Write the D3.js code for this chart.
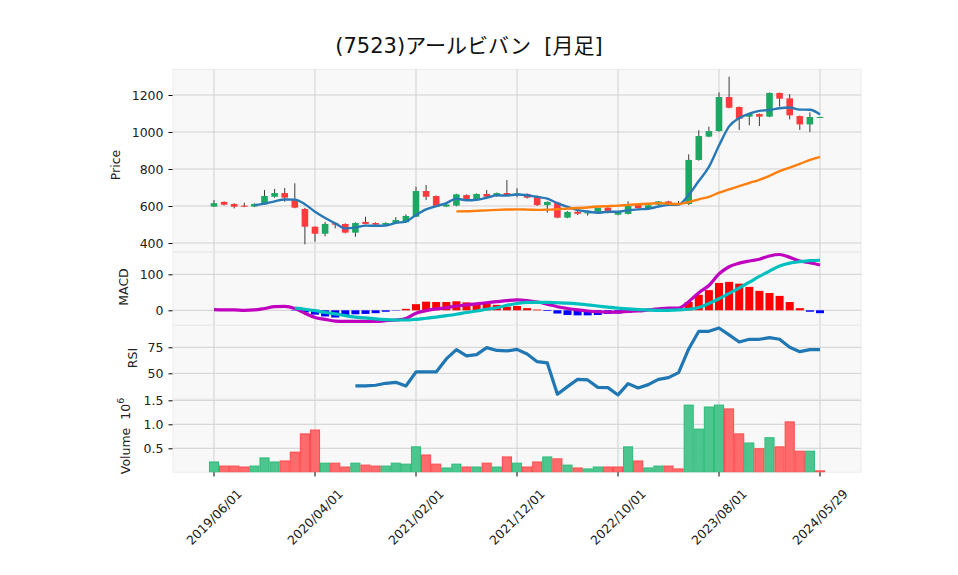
<!DOCTYPE html>
<html><head><meta charset="utf-8">
<script src="https://cdn.jsdelivr.net/npm/d3@7"></script>
<style>
html,body{margin:0;padding:0;background:#fff;}
svg text{font-family:'DejaVu Sans','Noto Sans CJK JP',sans-serif;}
</style></head>
<body><svg id="c" width="958" height="575"></svg>
<script>
const title = "(7523)アールビバン\u00a0\u00a0[月足]";
const tickIndex = [0,10,20,30,40,50,60];
const tickLabels = ["2019/06/01","2020/04/01","2021/02/01","2021/12/01","2022/10/01","2023/08/01","2024/05/29"];
const openP  = [597,622,611,602,597,609,650,670,632,584,488,450,507,503,456,514,508,499,507,512,542,681,654,597,602,659,638,665,654,670,664,665,654,605,618,537,569,560,569,591,553,557,607,589,607,625,614,611,849,975,1005,1189,1135,1083,1097,1083,1211,1182,1086,1041,1079];
const highP  = [632,625,614,618,614,686,692,697,723,590,490,514,510,506,512,542,512,512,540,555,704,713,657,612,666,663,668,686,673,740,696,668,657,625,622,572,573,575,593,594,570,625,612,606,627,628,627,879,1009,1029,1214,1299,1138,1100,1100,1214,1213,1205,1089,1106,1082];
const lowP   = [595,603,587,594,594,606,645,623,588,393,407,436,479,452,434,500,497,497,505,509,540,632,594,594,598,635,635,648,650,657,647,640,600,564,534,534,552,548,566,560,550,554,585,586,604,608,603,605,845,972,1002,1128,1011,1036,1032,1080,1137,1068,1011,1000,1078];
const closeP = [615,607,596,596,611,654,670,645,591,488,450,503,499,456,508,503,499,508,524,546,681,650,596,608,663,638,665,650,670,659,668,645,605,622,537,568,558,565,589,564,568,600,589,604,625,611,612,849,978,1005,1189,1131,1072,1097,1083,1211,1180,1090,1041,1081,1081];
const ma5 = [null,null,null,null,605,612.8,625.4,635.2,634.2,609.6,568.8,535.4,506.2,479.2,483.2,493.8,493,494.8,508.4,516,551.6,581.8,599.4,616.2,639.6,631,634,644.8,657.2,656.4,662.4,658.4,649.4,639.8,615.4,595.4,578,570,563.4,568.8,568.8,577.2,582,585,597.2,605.8,608.2,660.2,735,811,926.6,1030.4,1075,1098.8,1114.4,1118.8,1128.6,1132.2,1121,1120.6,1094.6];
const ma25 = [null,null,null,null,null,null,null,null,null,null,null,null,null,null,null,null,null,null,null,null,null,null,null,null,570.7,571.6,573.9,576.1,579,581,581.5,580.5,578.9,580.2,582.1,586.8,589,591.7,597,599.2,601.8,605.9,609.1,612.3,615.5,612.7,611.2,621.3,636.1,649.8,671.8,690.4,707.3,724.4,741.4,763.1,788,808,828,849,866];
const macd = [2,1,1,0,1,5,10,11,5,-8,-20,-25,-30,-31,-31,-31,-31,-29,-27,-23,-8,-1,4,7,12,15,18,21,24,27,29,27,23,17,10,5,1,-2,-4,-5,-5,-3,-2,1,4,6,6,24,49,69,101,121,131,137,142,151,155,147,137,132,126];
const signal = [null,null,null,null,null,null,null,null,6,3,-1,-6,-10,-15,-19,-21,-24,-26,-27,-27,-25,-22,-19,-15,-11,-6,-2,3,7,14,19,22,22,22,21,20,18,15,12,9,6,4,2,1,0,0,1,3,8,19,32,47,62,78,94,109,123,131,135,138,139];
const hist = [null,null,null,null,null,null,null,null,-1,-6,-12,-17,-20,-14,-11,-10,-8,-4,-1,4,17,24,23,23,25,22,20,18,15,10,12,6,2,-2,-9,-13,-14,-14,-13,-10,-9,-6,-3,-1,3,5,5,23,43,56,76,79,74,65,54,48,40,23,6,-4,-8];
const rsi = [null,null,null,null,null,null,null,null,null,null,null,null,null,null,38,38,38.5,40.4,41.3,37.8,51.3,51.3,51.3,63.8,72.8,66.7,68,74.7,72,71.5,73,68.6,61.2,60,29.8,37.2,44.2,43.6,36.5,36.2,29.2,40.1,35.9,39.1,44.2,45.8,50.6,73.4,90.4,90.4,93.6,86.9,80.1,82.7,82.7,84.3,82.7,75,70.8,72.8,72.8];
const volume = [0.215,0.13,0.13,0.11,0.13,0.30,0.215,0.236,0.42,0.80,0.88,0.19,0.19,0.11,0.19,0.15,0.13,0.13,0.19,0.17,0.53,0.36,0.17,0.09,0.17,0.11,0.11,0.19,0.11,0.32,0.19,0.11,0.215,0.32,0.28,0.15,0.09,0.07,0.11,0.11,0.11,0.53,0.236,0.09,0.13,0.13,0.07,1.40,0.90,1.36,1.40,1.32,0.80,0.61,0.49,0.72,0.53,1.05,0.44,0.44,0.03];
const volUp = [1,0,0,0,1,1,1,0,0,0,0,1,0,0,1,0,0,1,1,1,1,0,0,1,1,0,1,0,1,0,1,0,0,1,0,1,0,1,1,0,0,1,0,1,1,0,0,1,1,1,1,0,0,1,0,1,0,0,0,1,0];
const priceTicks = [400,600,800,1000,1200];
const macdTicks = [0,100];
const rsiTicks = [50,75];
const volTicks = [0.5,1.0,1.5];

const svg = d3.select("#c");
const FONT = 12.5;
const L = 173, R = 861;
const x = d3.scaleLinear().domain([-4.06, 64.06]).range([L, R]);
const idx = d3.range(closeP.length);

const panels = {
  price: {top:69.3, bot:251.7, y:d3.scaleLinear().domain([400,1200]).range([243,95])},
  macd:  {top:252.3, bot:325, y:d3.scaleLinear().domain([0,100]).range([310.3,274.3])},
  rsi:   {top:325.5, bot:399, y:d3.scaleLinear().domain([50,75]).range([373.3,347.3])},
  vol:   {top:399.6, bot:472.2, y:d3.scaleLinear().domain([0,1.5]).range([472.3,400.3])}
};

const defs = svg.append("defs");
Object.entries(panels).forEach(([k,p])=>{
  defs.append("clipPath").attr("id","clip-"+k).append("rect")
    .attr("x",L).attr("y",p.top).attr("width",R-L).attr("height",p.bot-p.top);
  svg.append("rect").attr("x",L).attr("y",p.top).attr("width",R-L).attr("height",p.bot-p.top)
    .attr("fill","#f8f8f8").attr("stroke","#ececec").attr("stroke-width",1);
  p.g = svg.append("g").attr("clip-path","url(#clip-"+k+")");
});

function hgrid(p, ticks){
  p.g.selectAll(null).data(ticks).join("line")
    .attr("x1",L).attr("x2",R).attr("y1",d=>p.y(d)).attr("y2",d=>p.y(d))
    .attr("stroke","#d0d0d0").attr("stroke-width",1);
}
hgrid(panels.price, priceTicks); hgrid(panels.macd, macdTicks);
hgrid(panels.rsi, rsiTicks); hgrid(panels.vol, volTicks);
Object.values(panels).forEach(p=>{
  p.g.selectAll(null).data(tickIndex).join("line")
    .attr("x1",d=>x(d)).attr("x2",d=>x(d)).attr("y1",p.top).attr("y2",p.bot)
    .attr("stroke","#d0d0d0").attr("stroke-width",1);
});

function yaxis(p, ticks, fmt){
  const ax = d3.axisLeft(p.y).tickValues(ticks).tickSize(4).tickPadding(5).tickFormat(fmt);
  const g = svg.append("g").attr("transform",`translate(${L-0.5},0)`).call(ax);
  g.select(".domain").remove();
  g.selectAll("line").attr("stroke","#000");
  g.selectAll("text").attr("font-size",FONT).attr("fill","#222")
   .style("font-family","'DejaVu Sans',sans-serif");
}
yaxis(panels.price, priceTicks, d3.format("d"));
yaxis(panels.macd, macdTicks, d3.format("d"));
yaxis(panels.rsi, rsiTicks, d3.format("d"));
yaxis(panels.vol, volTicks, d3.format(".1f"));

const xg = svg.append("g");
xg.selectAll(null).data(tickIndex).join("line")
  .attr("x1",d=>x(d)).attr("x2",d=>x(d)).attr("y1",472.2).attr("y2",476.5).attr("stroke","#000");
xg.selectAll(null).data(tickIndex).join("text")
  .attr("transform",(d,i)=>`translate(${x(d)},517) rotate(-45)`)
  .attr("text-anchor","middle").attr("dominant-baseline","central")
  .attr("font-size",FONT).attr("fill","#222")
  .text((d,i)=>tickLabels[i]);

const pg = panels.price.g, py = panels.price.y;
const upC = "#1aa862", dnC = "#fe3a3c";
const cw = 6.6;
pg.selectAll(".wick").data(idx).join("line")
  .attr("x1",i=>x(i)).attr("x2",i=>x(i)).attr("y1",i=>py(highP[i])).attr("y2",i=>py(lowP[i]))
  .attr("stroke","#3a3a3a").attr("stroke-width",1);
pg.selectAll(".body").data(idx).join("rect")
  .attr("x",i=>x(i)-cw/2).attr("width",cw)
  .attr("y",i=>py(Math.max(openP[i],closeP[i])))
  .attr("height",i=>Math.max(1,Math.abs(py(openP[i])-py(closeP[i]))))
  .attr("fill",i=>closeP[i]>=openP[i]?upC:dnC);

const line = (ys, yfn)=> d3.line().defined(i=>ys[i]!=null).x(i=>x(i)).y(i=>yfn(ys[i])).curve(d3.curveMonotoneX)(idx);
pg.append("path").attr("d",line(ma5,py)).attr("fill","none").attr("stroke","#2878b5").attr("stroke-width",2.4);
pg.append("path").attr("d",line(ma25,py)).attr("fill","none").attr("stroke","#ff7f0e").attr("stroke-width",2.4);

const mg = panels.macd.g, my = panels.macd.y;
const hw = 8;
mg.selectAll(".h").data(idx.filter(i=>hist[i]!=null)).join("rect")
  .attr("x",i=>x(i)-hw/2).attr("width",hw)
  .attr("y",i=>Math.min(my(0),my(hist[i]))).attr("height",i=>Math.abs(my(hist[i])-my(0)))
  .attr("fill",i=>hist[i]>=0?"#ff0000":"#0000ff");
mg.append("path").attr("d",line(macd,my)).attr("fill","none").attr("stroke","#bf00bf").attr("stroke-width",3.2);
mg.append("path").attr("d",line(signal,my)).attr("fill","none").attr("stroke","#00bfbf").attr("stroke-width",3.2);

const rg = panels.rsi.g, ry = panels.rsi.y;
rg.append("path").attr("d",d3.line().defined(i=>rsi[i]!=null).x(i=>x(i)).y(i=>ry(rsi[i]))(idx))
  .attr("fill","none").attr("stroke","#1f77b4").attr("stroke-width",3.2).attr("stroke-linejoin","round");

const vg = panels.vol.g, vy = panels.vol.y;
const bw = x(1)-x(0);
vg.selectAll(".v").data(idx).join("rect")
  .attr("x",i=>x(i)-bw/2+0.5).attr("width",bw-1)
  .attr("y",i=>vy(volume[i])).attr("height",i=>vy(0)-vy(volume[i]))
  .attr("fill",i=>volUp[i]?"#4cc68e":"#fe6b6c")
  .attr("stroke",i=>volUp[i]?"#2dbb78":"#fe4a4c").attr("stroke-width",1);

function ylab(txt, cx, cy){
  return svg.append("text").attr("transform",`translate(${cx},${cy}) rotate(-90)`)
    .attr("text-anchor","middle").attr("dominant-baseline","central")
    .attr("font-size",FONT).attr("fill","#222").text(txt);
}
ylab("Price",115,165);
ylab("MACD",123,287);
ylab("RSI",132,358);
const vl = svg.append("text").attr("transform","translate(125,436) rotate(-90)")
  .attr("text-anchor","middle").attr("dominant-baseline","central")
  .attr("font-size",FONT).attr("fill","#222");
vl.append("tspan").text("Volume\u00a0\u00a010");
vl.append("tspan").attr("dy",-5).attr("font-size",9.5).text("6");

svg.append("text").attr("x",469).attr("y",53).attr("text-anchor","middle")
  .attr("font-size",21).attr("fill","#111").text(title);
</script></body></html>
